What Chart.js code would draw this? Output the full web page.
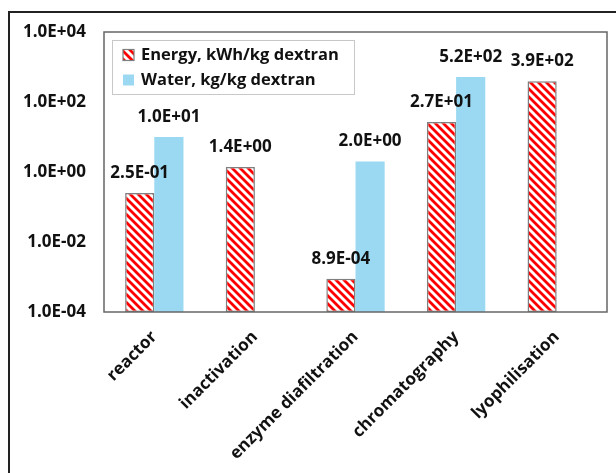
<!DOCTYPE html>
<html>
<head>
<meta charset="utf-8">
<script src="https://cdn.jsdelivr.net/npm/chart.js@4.4.1/dist/chart.umd.min.js"></script>
<style>
  html, body { margin: 0; padding: 0; background: #fff; }
  #wrap { width: 616px; height: 473px; position: relative; }
</style>
</head>
<body>
<div id="wrap"><canvas id="c" width="616" height="473"></canvas></div>
<script>
// Process steps and their per-kg-dextran demands
const categories = ['reactor', 'inactivation', 'enzyme diafiltration', 'chromatography', 'lyophilisation'];
const energy = [0.25, 1.4, 8.9e-4, 27, 390];      // kWh/kg dextran
const water = [10, null, 2.0, 520, null];          // kg/kg dextran
const yTickValues = [1e-4, 1e-2, 1, 1e2, 1e4];
const seriesNames = ['Energy, kWh/kg dextran', 'Water, kg/kg dextran'];

const FONT = '"Open Sans", "Liberation Sans", sans-serif';
const WATER_COLOR = '#9bd9f2';

// Red diagonal hatch on white
function makeHatch() {
  const s = 8;
  const p = document.createElement('canvas');
  p.width = s; p.height = s;
  const g = p.getContext('2d');
  g.fillStyle = '#ffffff';
  g.fillRect(0, 0, s, s);
  g.strokeStyle = '#ff0000';
  g.lineWidth = 2.8;
  g.beginPath();
  g.moveTo(-2, -2); g.lineTo(s + 2, s + 2);
  g.moveTo(-2, s - 2); g.lineTo(2, s + 2);
  g.moveTo(s - 2, -2); g.lineTo(s + 2, 2);
  g.stroke();
  return document.getElementById('c').getContext('2d').createPattern(p, 'repeat');
}
const hatch = makeHatch();

// Scientific notation like 1.0E+04
function sci(v) {
  const [m, e] = v.toExponential(1).split('e');
  const n = parseInt(e, 10);
  const sign = n < 0 ? '-' : '+';
  const abs = Math.abs(n);
  return m + 'E' + sign + (abs < 10 ? '0' + abs : String(abs));
}

const framePlugin = {
  id: 'frame',
  beforeDraw(chart) {
    const ctx = chart.ctx;
    ctx.save();
    ctx.fillStyle = '#ffffff';
    ctx.fillRect(0, 0, chart.width, chart.height);
    ctx.restore();
  },
  afterDraw(chart) {
    const ctx = chart.ctx;
    const a = chart.chartArea;
    ctx.save();
    // plot area border
    ctx.strokeStyle = '#666666';
    ctx.lineWidth = 1.5;
    ctx.strokeRect(a.left, a.top, a.right - a.left, a.bottom - a.top);
    // outer chart frame
    ctx.strokeStyle = '#222222';
    ctx.lineWidth = 2;
    ctx.strokeRect(9, 12, 700, 600);
    ctx.restore();
  }
};

const valueLabelPlugin = {
  id: 'valueLabels',
  afterDatasetsDraw(chart) {
    const ctx = chart.ctx;
    ctx.save();
    ctx.font = 'bold 17px ' + FONT;
    ctx.fillStyle = '#111111';
    ctx.textAlign = 'center';
    ctx.textBaseline = 'alphabetic';
    chart.data.datasets.forEach((ds, i) => {
      const meta = chart.getDatasetMeta(i);
      meta.data.forEach((el, j) => {
        const v = ds.data[j];
        if (v == null) return;
        ctx.fillText(sci(v), el.x, el.y - 15);
      });
    });
    ctx.restore();
  }
};

const legendPlugin = {
  id: 'boxLegend',
  afterDraw(chart) {
    const ctx = chart.ctx;
    const x = 112, y = 40, w = 242, h = 54;
    ctx.save();
    ctx.fillStyle = '#ffffff';
    ctx.fillRect(x, y, w, h);
    ctx.strokeStyle = '#c8c8c8';
    ctx.lineWidth = 1;
    ctx.strokeRect(x + 0.5, y + 0.5, w, h);
    ctx.font = 'bold 16.5px ' + FONT;
    ctx.textBaseline = 'middle';
    ctx.textAlign = 'left';
    chart.data.datasets.forEach((ds, i) => {
      const cy = y + 15 + i * 25;
      const mx = x + 11, ms = 11;
      ctx.fillStyle = ds.backgroundColor;
      ctx.fillRect(mx, cy - ms / 2, ms, ms);
      if (ds.borderWidth) {
        ctx.strokeStyle = ds.borderColor;
        ctx.lineWidth = 1.2;
        ctx.strokeRect(mx, cy - ms / 2, ms, ms);
      }
      ctx.fillStyle = '#111111';
      ctx.fillText(ds.label, x + 29, cy);
    });
    ctx.restore();
  }
};

new Chart(document.getElementById('c'), {
  type: 'bar',
  data: {
    labels: categories,
    datasets: [
      {
        label: seriesNames[0],
        data: energy,
        backgroundColor: hatch,
        borderColor: '#7f7f7f',
        borderWidth: 1.5,
        borderSkipped: false
      },
      {
        label: seriesNames[1],
        data: water,
        backgroundColor: WATER_COLOR,
        borderWidth: 0
      }
    ]
  },
  options: {
    responsive: false,
    animation: false,
    devicePixelRatio: 1,
    layout: { padding: { top: 32, right: 9, left: 0, bottom: 0 } },
    datasets: { bar: { categoryPercentage: 0.58, barPercentage: 1.0 } },
    plugins: {
      legend: { display: false },
      tooltip: { enabled: false }
    },
    scales: {
      x: {
        grid: { display: false, drawTicks: false },
        border: { display: false },
        ticks: {
          autoSkip: false,
          maxRotation: 45,
          minRotation: 45,
          padding: 15,
          color: '#111111',
          font: { family: FONT, size: 17, weight: 'bold' }
        },
        afterFit(scale) { scale.height = 161; }
      },
      y: {
        type: 'logarithmic',
        min: 1e-4,
        max: 1e4,
        grid: { display: false, drawTicks: false },
        border: { display: false },
        afterBuildTicks(scale) {
          scale.ticks = yTickValues.map(v => ({ value: v }));
        },
        ticks: {
          padding: 18,
          color: '#111111',
          font: { family: FONT, size: 17, weight: 'bold' },
          callback: (v) => sci(v)
        },
        afterFit(scale) { scale.width = 104; }
      }
    }
  },
  plugins: [framePlugin, valueLabelPlugin, legendPlugin]
});
</script>
</body>
</html>
